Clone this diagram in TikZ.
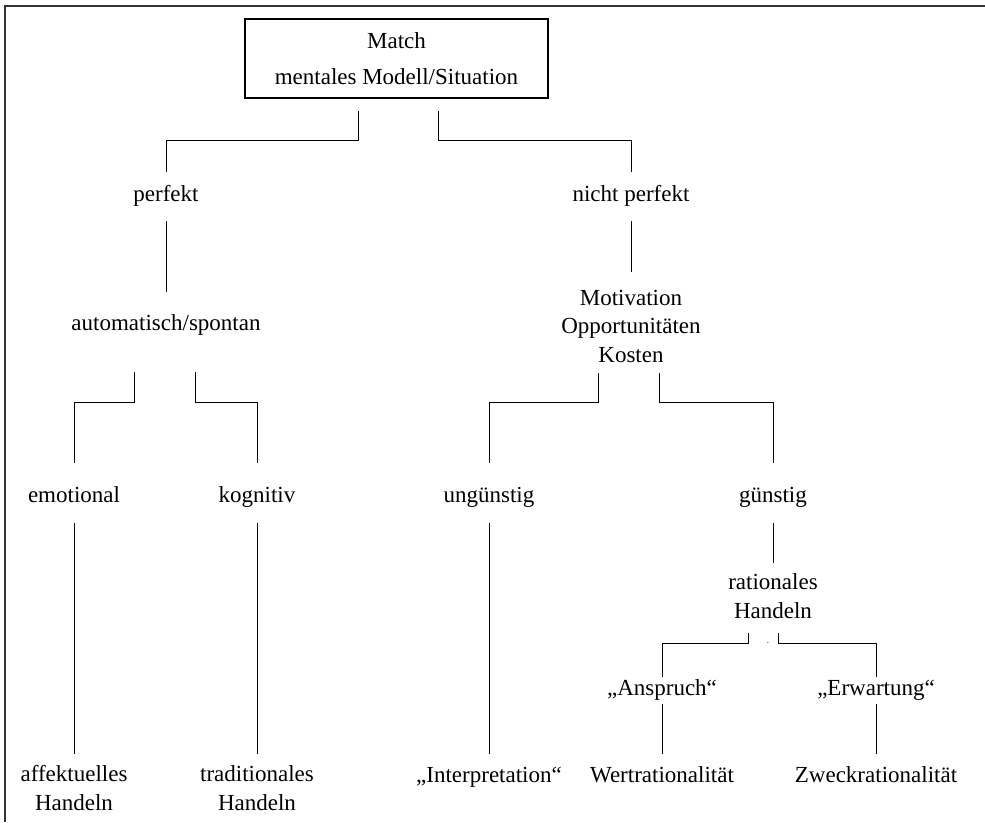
\documentclass[tikz,border=0pt]{standalone}
\usepackage{fontspec}
\setmainfont{Liberation Serif}
\usepackage{xcolor}
\usepackage{tikz}

\begin{document}
\begin{tikzpicture}[x=1pt, y=1pt]
    % Define styles
    \tikzstyle{lbl} = [font=\fontsize{23}{28.5}\selectfont, inner sep=0pt, anchor=base, align=center]
    \tikzstyle{topbox} = [rectangle, draw, line width=1.2pt, minimum width=303pt, minimum height=79pt, inner sep=0pt, align=center, font=\fontsize{23}{28.5}\selectfont]
    \tikzstyle{conn} = [draw, line width=1pt]

    \useasboundingbox (0,0) rectangle (985,-822);
    \draw[black!80, line width=2pt] (4.5,-822) -- (4.5,-5.5) -- (985,-5.5);

    % Top box
    \node[topbox] (match) at (396.5,-58.5) {Match\\[7.5pt]mentales Modell/Situation};

    % Level 1
    \node[lbl] (perf) at (166,-201) {perfekt};
    \node[lbl] (nperf) at (631,-201) {nicht perfekt};

    % Level 2
    \node[lbl] (auto) at (166,-330) {automatisch/spontan};
    \node[lbl] (moko) at (631,-362) {Motivation\\Opportunitäten\\Kosten};

    % Level 3
    \node[lbl] (emo) at (74,-502) {emotional};
    \node[lbl] (kog) at (257,-502) {kognitiv};
    \node[lbl] (ungst) at (489,-502) {ungünstig};
    \node[lbl] (gst) at (773,-502) {günstig};

    % Rational branch
    \node[lbl] (ratio) at (773,-618) {rationales\\Handeln};
    \node[lbl, font=\small] (pt) at (768,-643) {.};
    \node[lbl] (ansp) at (662,-695) {„Anspruch“};
    \node[lbl] (erw) at (876,-695) {„Erwartung“};

    % Bottom row
    \node[lbl] (aff) at (74,-810) {affektuelles\\Handeln};
    \node[lbl] (trad) at (257,-810) {traditionales\\Handeln};
    \node[lbl] (interp) at (489,-782) {„Interpretation“};
    \node[lbl] (wert) at (662,-782) {Wertrationalität};
    \node[lbl] (zweck) at (876,-782) {Zweckrationalität};

    % Connectors
    \draw[conn] ([xshift=-38.5pt,yshift=-12pt]match.south) -- ++(0,-30) -| ([yshift=29pt]perf.base);
    \draw[conn] ([xshift=41.5pt,yshift=-12pt]match.south) -- ++(0,-30) -| ([yshift=29pt]nperf.base);
    \draw[conn] ([yshift=-20pt]perf.base) -- ([yshift=38pt]auto.base);
    \draw[conn] ([yshift=-20pt]nperf.base) -- ([yshift=90pt]moko.base);
    \draw[conn] ([xshift=-32pt,yshift=-42pt]auto.base) -- ++(0,-30) -| ([yshift=39pt]emo.base);
    \draw[conn] ([xshift=29pt,yshift=-42pt]auto.base) -- ++(0,-30) -| ([yshift=39pt]kog.base);
    \draw[conn] ([xshift=-33pt,yshift=-11pt]moko.base) -- ++(0,-29) -| ([yshift=39pt]ungst.base);
    \draw[conn] ([xshift=28pt,yshift=-11pt]moko.base) -- ++(0,-29) -| ([yshift=39pt]gst.base);
    \draw[conn] ([yshift=-21pt]emo.base) -- ([yshift=56pt]aff.base);
    \draw[conn] ([yshift=-21pt]kog.base) -- ([yshift=56pt]trad.base);
    \draw[conn] ([yshift=-21pt]ungst.base) -- ([yshift=28pt]interp.base);
    \draw[conn] ([yshift=-21pt]gst.base) -- ([yshift=55pt]ratio.base);
    \draw[conn] ([xshift=-25pt,yshift=-15pt]ratio.base) -- ++(0,-10) -| ([yshift=18pt]ansp.base);
    \draw[conn] ([xshift=5pt,yshift=-15pt]ratio.base) -- ++(0,-10) -| ([yshift=18pt]erw.base);
    \draw[conn] ([yshift=-9pt]ansp.base) -- ([yshift=28pt]wert.base);
    \draw[conn] ([yshift=-9pt]erw.base) -- ([yshift=28pt]zweck.base);
\end{tikzpicture}
\end{document}
